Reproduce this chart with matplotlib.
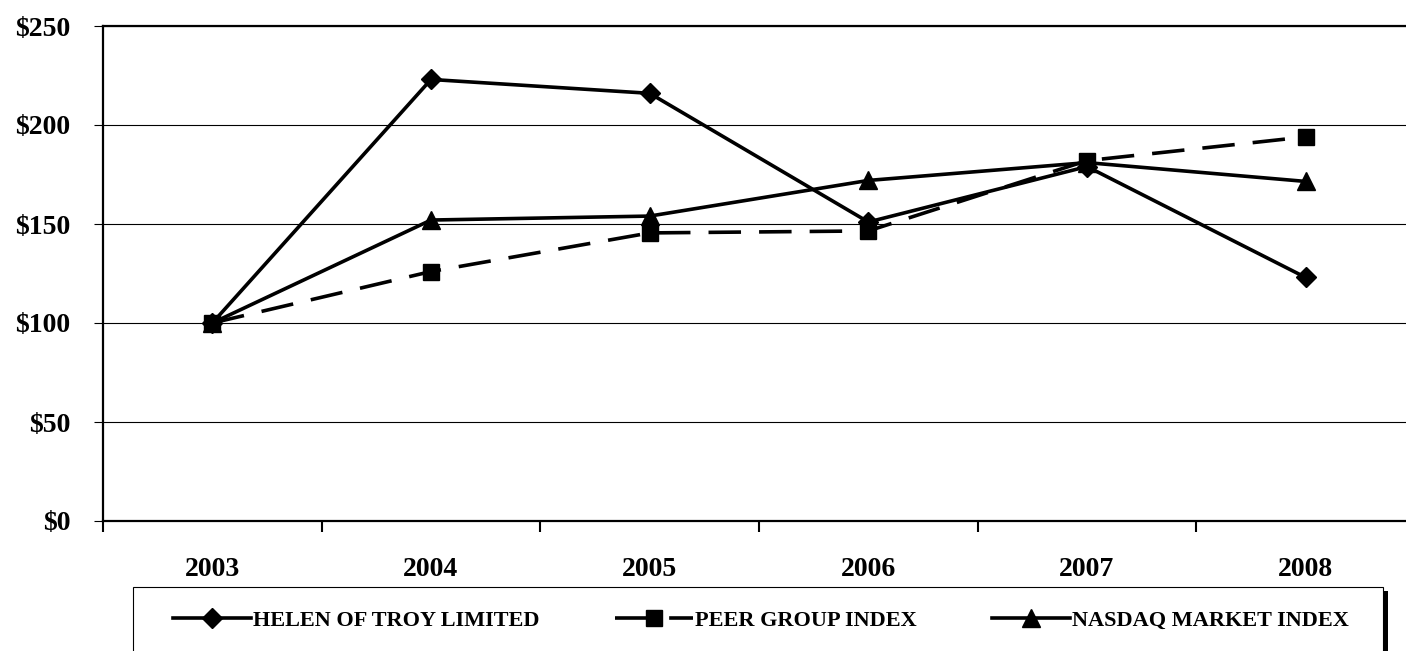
import matplotlib.pyplot as plt
import matplotlib.patches as mpatches

years = ['2003', '2004', '2005', '2006', '2007', '2008']
helen = [100, 223, 216, 151, 179, 123]
peer = [100, 126, 145.5, 146.5, 182, 194]
nasdaq = [100, 152, 154, 172, 181, 171.5]

plt.rcParams['font.family'] = ['Liberation Serif', 'DejaVu Serif']
plt.rcParams['font.weight'] = 'bold'

W, H = 1406, 651
fig = plt.figure(figsize=(W / 100, H / 100), dpi=100)
ax = fig.add_axes([103 / W, 1 - 521 / H, (1415 - 103) / W, (521 - 26) / H])

x = list(range(len(years)))
ax.plot(x, helen, color='black', lw=2.6, marker='D', ms=10, label='HELEN OF TROY LIMITED', zorder=3)
ax.plot(x, peer, color='black', lw=2.6, marker='s', ms=12, dashes=(9, 5), label='PEER GROUP INDEX', zorder=5)
ax.plot(x, nasdaq, color='black', lw=2.6, marker='^', ms=13, label='NASDAQ MARKET INDEX', zorder=4)

ax.set_xlim(-0.5, len(years) - 0.5)
ax.set_ylim(0, 250)
ax.set_yticks(range(0, 251, 50))
ax.set_yticklabels(['$%d' % v for v in range(0, 251, 50)], fontsize=20, fontweight='bold')
ax.yaxis.grid(True, color='black', lw=0.8)
ax.set_axisbelow(True)

# category boundaries as major ticks, year labels as minor
ax.set_xticks([i - 0.5 for i in range(len(years) + 1)])
ax.set_xticklabels([])
ax.set_xticks(x, minor=True)
ax.set_xticklabels(years, minor=True, fontsize=20, fontweight='bold')
ax.tick_params(axis='x', which='major', length=8, width=1.5, direction='out')
ax.tick_params(axis='x', which='minor', length=0, pad=26)
ax.tick_params(axis='y', length=6.5, width=0.8, pad=17)

for s in ['left', 'bottom', 'top']:
    ax.spines[s].set_linewidth(1.6)
ax.spines['right'].set_visible(False)

# legend box with shadow
shadow = mpatches.Rectangle((138 / W, -0.1), (1388 - 138) / W, 0.1 + (651 - 591) / H,
                            transform=fig.transFigure, facecolor='black', edgecolor='none', clip_on=False)
box = mpatches.Rectangle((133 / W, -0.1), (1383 - 133) / W, 0.1 + (651 - 587) / H,
                         transform=fig.transFigure, facecolor='white', edgecolor='black', lw=0.8, clip_on=False)
fig.patches.extend([shadow, box])

leg = fig.legend(loc='center left', bbox_to_anchor=(173 / W, 1 - 621 / H), ncol=3, frameon=False,
                 prop={'family': 'Liberation Serif', 'weight': 'bold', 'size': 16},
                 handlelength=3.5, handletextpad=0.1, columnspacing=3.4, borderpad=0, borderaxespad=0)
leg.legend_handles[1].set_linestyle((0, (11, 4)))

fig.savefig('out.png', dpi=100)
